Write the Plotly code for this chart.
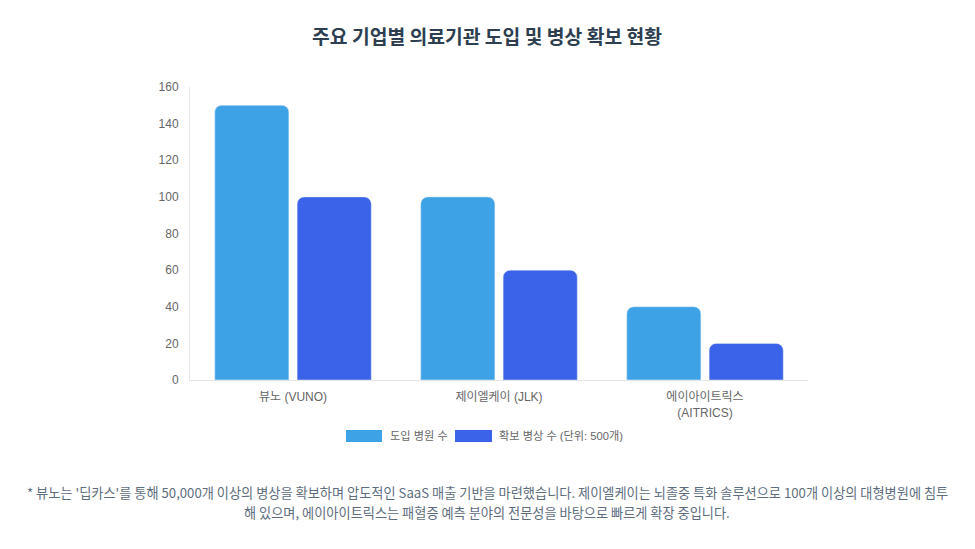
import plotly.graph_objects as go

categories = ["뷰노 (VUNO)", "제이엘케이 (JLK)", "에이아이트릭스<br>(AITRICS)"]
hospitals = [150, 100, 40]
beds = [100, 60, 20]
series_names = ["도입 병원 수", "확보 병상 수 (단위: 500개)"]
series_colors = ["#3ea3e6", "#3a63e9"]
title_text = "주요 기업별 의료기관 도입 및 병상 확보 현황"
note_lines = ["* 뷰노는 '딥카스'를 통해 50,000개 이상의 병상을 확보하며 압도적인 SaaS 매출 기반을 마련했습니다. "
              "제이엘케이는 뇌졸중 특화 솔루션으로 100개 이상의 대형병원에 침투",
              "해 있으며, 에이아이트릭스는 패혈증 예측 분야의 전문성을 바탕으로 빠르게 확장 중입니다."]

fig = go.Figure()
for name, vals, col in zip(series_names, [hospitals, beds], series_colors):
    fig.add_trace(go.Bar(x=categories, y=vals, name=name, showlegend=False,
                         marker=dict(color=col, cornerradius=7)))

fig.update_layout(
    width=975, height=549,
    paper_bgcolor="white", plot_bgcolor="white",
    margin=dict(l=182, r=175, t=79, b=177),
    barmode="group", bargap=0.2, bargroupgap=0.1,
    font=dict(family="Liberation Sans, Arial, Noto Sans CJK KR, sans-serif", size=12, color="#666666"),
    title=dict(text="<b>" + title_text + "</b>", x=0.4913, xanchor="center", y=0.947, yanchor="middle",
               font=dict(family="Noto Sans CJK KR, sans-serif", size=19.3, color="#2c3e50")),
    showlegend=False,
)
fig.update_xaxes(showgrid=False, showline=True, linecolor="#e5e5e5", linewidth=1,
                 ticks="", ticklabelstandoff=6, tickfont=dict(size=12, color="#666666"))
fig.update_yaxes(range=[0, 160], dtick=20, showgrid=False, showline=True, linecolor="#e5e5e5",
                 linewidth=1, zeroline=False, ticks="", ticklabelstandoff=8,
                 tickfont=dict(size=12, color="#666666"))

# custom legend (wide boxes like the reference)
legend_boxes = [(0.2524, 0.3107, 0.3204), (0.4288, 0.4887, 0.4968)]
for (x0, x1, xt), name, col in zip(legend_boxes, series_names, series_colors):
    fig.add_shape(type="rect", xref="paper", yref="paper", x0=x0, x1=x1, y0=-0.2116, y1=-0.1706,
                  fillcolor=col, line=dict(width=0))
    fig.add_annotation(text=name, xref="paper", yref="paper", x=xt, xanchor="left",
                       y=-0.1911, yanchor="middle", showarrow=False,
                       font=dict(size=11.2, color="#666666"))

for line, yy in zip(note_lines, [-0.3823, -0.4539]):
    fig.add_annotation(text=line, xref="paper", yref="paper", x=0.4806, xanchor="center",
                       y=yy, yanchor="middle", showarrow=False,
                       font=dict(family="Noto Sans CJK KR, sans-serif", size=13.2, color="#5d6d7e"))

fig.write_html("out.html")
